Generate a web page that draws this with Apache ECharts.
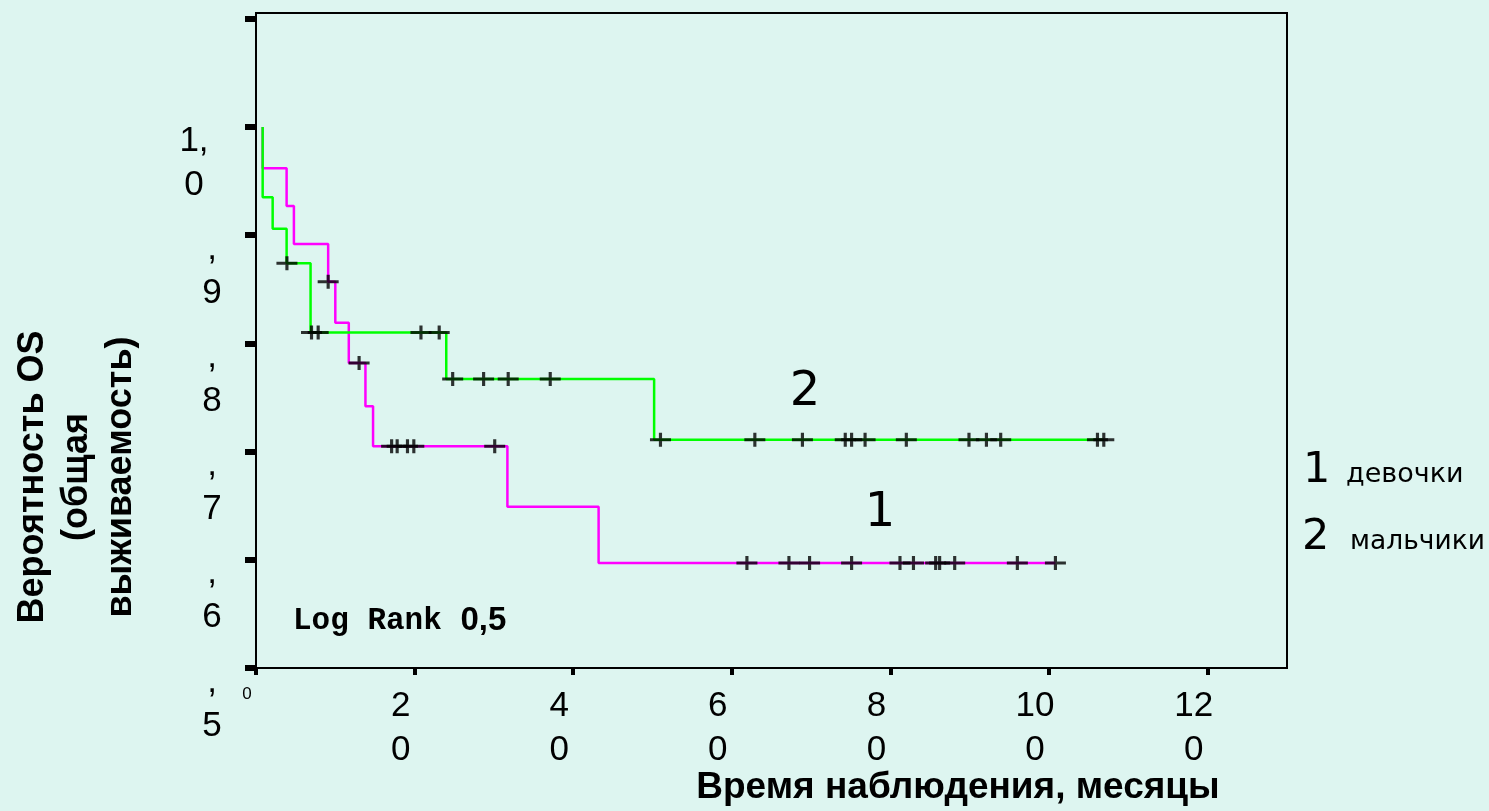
<!DOCTYPE html>
<html><head><meta charset="utf-8">
<script src="https://cdn.jsdelivr.net/npm/echarts@6/dist/echarts.min.js"></script>
<style>html,body{margin:0;padding:0;background:#ddf5f0;} #c{width:1489px;height:811px;}</style>
</head><body><div id="c"></div>
<script>
// ---- data ----
const xTicks = [0, 20, 40, 60, 80, 100, 120];
const xTickLabels = ['0', '2\n0', '4\n0', '6\n0', '8\n0', '10\n0', '12\n0'];
const yTicks = [0.5, 0.6, 0.7, 0.8, 0.9, 1.0, 1.1];
const yLabelValues = [0.5, 0.6, 0.7, 0.8, 0.9, 1.0];
const yTickLabels = [',\n5', ',\n6', ',\n7', ',\n8', ',\n9', '1,\n0'];

// group 1 (девочки) – magenta
const girlsTimes = [0.84, 0.84, 3.86, 4.78, 9.1, 10.0, 11.7, 13.8, 14.76, 31.7, 43.2, 100.8];
const girlsSurv  = [1.0, 0.962, 0.927, 0.892, 0.857, 0.819, 0.782, 0.742, 0.705, 0.649, 0.597, 0.597];
const girlsCensor = [9.1, 13.0, 17.1, 17.8, 19.1, 19.9, 30.1, 61.9, 67.2, 69.8, 75.1, 81.2, 82.9, 85.7, 86.2, 88.1, 96.0, 100.8];

// group 2 (мальчики) – green
const boysTimes = [0.84, 0.84, 2.1, 3.86, 6.88, 23.99, 50.2, 106.9];
const boysSurv  = [1.0, 0.935, 0.906, 0.874, 0.810, 0.767, 0.711, 0.711];
const boysCensor = [3.9, 7.0, 7.84, 20.8, 23.1, 24.8, 28.7, 31.8, 37.1, 51.0, 62.9, 68.9, 74.3, 75.1, 76.8, 82.0, 89.9, 92.1, 93.9, 106.1, 106.9];

const legendNames = ['девочки', 'мальчики'];
const yTitle = 'Вероятность OS\n(общая\nвыживаемость)';
const xTitle = 'Время наблюдения, месяцы';
const noteMono = 'Log Rank ';
const noteValue = '0,5';

// ---- helpers ----
function stepAt(times, surv, t) {
  let v = surv[0];
  for (let i = 0; i < times.length; i++) { if (times[i] <= t + 1e-9) v = surv[i]; }
  return v;
}
function idxOf(arr, v) { return arr.findIndex(a => Math.abs(a - v) < 1e-6); }

const plusPath = 'path://M0,5.5 L8.5,5.5 L8.5,0 L11.5,0 L11.5,5.5 L20,5.5 L20,8.5 L11.5,8.5 L11.5,14 L8.5,14 L8.5,8.5 L0,8.5 Z';
const SANS = 'Liberation Sans';

const chart = echarts.init(document.getElementById('c'), null, {renderer: 'canvas'});
chart.setOption({
  animation: false,
  backgroundColor: '#ddf5f0',
  grid: {left: 256, right: 202, top: 13, bottom: 143, show: true, borderColor: '#000', borderWidth: 2, backgroundColor: 'transparent'},
  xAxis: {
    type: 'value', min: 0, max: 130,
    axisLine: {show: true, lineStyle: {color: '#000', width: 2}},
    axisTick: {show: true, customValues: xTicks, length: 7, lineStyle: {color: '#000', width: 4}},
    splitLine: {show: false},
    axisLabel: {
      customValues: xTicks, margin: 16, color: '#000', fontFamily: SANS, fontSize: 35, lineHeight: 44,
      align: 'center', padding: [0, 28, 0, 0],
      formatter: v => { const i = idxOf(xTicks, v); if (i < 0) return ''; return v === 0 ? '{s|0}' : xTickLabels[i]; },
      rich: {s: {fontSize: 17, lineHeight: 20, fontFamily: SANS, color: '#000', padding: [0, 0, 0, 10]}}
    }
  },
  yAxis: {
    type: 'value', min: 0.5, max: 1.1054,
    axisLine: {show: true, lineStyle: {color: '#000', width: 2}},
    axisTick: {show: true, customValues: yTicks, length: 11, lineStyle: {color: '#000', width: 6}},
    splitLine: {show: false},
    axisLabel: {
      customValues: yLabelValues, margin: 44, color: '#000', align: 'center', verticalAlign: 'top',
      formatter: v => {
        const i = idxOf(yLabelValues, v); if (i < 0) return '';
        const parts = yTickLabels[i].split('\n');
        if (Math.abs(v - 1) < 1e-6) return '{c|' + parts[0] + '}\n{d|' + parts[1] + '}';
        return '{a|' + parts[0] + '}\n{b|' + parts[1] + '}';
      },
      rich: {
        a: {fontFamily: SANS, fontSize: 35, lineHeight: 28, color: '#000'},
        b: {fontFamily: SANS, fontSize: 35, lineHeight: 60, color: '#000'},
        c: {fontFamily: SANS, fontSize: 35, lineHeight: 28, color: '#000', padding: [0, 36, 0, 0]},
        d: {fontFamily: SANS, fontSize: 35, lineHeight: 60, color: '#000', padding: [0, 36, 0, 0]}
      }
    }
  },
  series: [
    {name: legendNames[0], type: 'line', step: 'end', showSymbol: false, z: 2,
     data: girlsTimes.map((t, i) => [t, girlsSurv[i]]), lineStyle: {color: '#ff00ff', width: 2.5}},
    {name: legendNames[1], type: 'line', step: 'end', showSymbol: false, z: 3,
     data: boysTimes.map((t, i) => [t, boysSurv[i]]), lineStyle: {color: '#00ff00', width: 2.5}},
    {type: 'scatter', z: 5, symbol: plusPath, symbolSize: [21, 14], itemStyle: {color: '#000'},
     data: girlsCensor.map(t => [t, stepAt(girlsTimes, girlsSurv, t)])},
    {type: 'scatter', z: 5, symbol: plusPath, symbolSize: [21, 14], itemStyle: {color: '#000'},
     data: boysCensor.map(t => [t, stepAt(boysTimes, boysSurv, t)])}
  ],
  graphic: [
    {type: 'text', x: 77, y: 477, rotation: Math.PI / 2,
     style: {text: yTitle, fontFamily: SANS, fontWeight: 'bold', fontSize: 36, lineHeight: 44, fill: '#000', align: 'center', verticalAlign: 'middle'}},
    {type: 'text', x: 958, y: 788,
     style: {text: xTitle, fontFamily: SANS, fontWeight: 'bold', fontSize: 37, fill: '#000', align: 'center', verticalAlign: 'middle'}},
    {type: 'text', x: 293, y: 621,
     style: {text: '{m|' + noteMono + '}{b|' + noteValue + '}', align: 'left', verticalAlign: 'middle',
       rich: {m: {fontFamily: 'Liberation Mono', fontWeight: 'bold', fontSize: 31, fill: '#000'},
              b: {fontFamily: SANS, fontWeight: 'bold', fontSize: 33, fill: '#000'}}}},
    {type: 'text', x: 805, y: 393, style: {text: '2', fontFamily: 'DejaVu Sans', fontSize: 48, fill: '#000', align: 'center', verticalAlign: 'middle'}},
    {type: 'text', x: 880, y: 514, style: {text: '1', fontFamily: 'DejaVu Sans', fontSize: 48, fill: '#000', align: 'center', verticalAlign: 'middle'}},
    {type: 'text', x: 1303, y: 470.5, style: {text: '1', fontFamily: 'DejaVu Sans', fontSize: 43, fill: '#000', align: 'left', verticalAlign: 'middle'}},
    {type: 'text', x: 1346, y: 475, style: {text: legendNames[0], fontFamily: 'DejaVu Sans', fontSize: 27, fill: '#000', align: 'left', verticalAlign: 'middle'}},
    {type: 'text', x: 1302, y: 537.5, style: {text: '2', fontFamily: 'DejaVu Sans', fontSize: 43, fill: '#000', align: 'left', verticalAlign: 'middle'}},
    {type: 'text', x: 1350, y: 542, style: {text: legendNames[1], fontFamily: 'DejaVu Sans', fontSize: 26.5, fill: '#000', align: 'left', verticalAlign: 'middle'}}
  ]
});
</script></body></html>
